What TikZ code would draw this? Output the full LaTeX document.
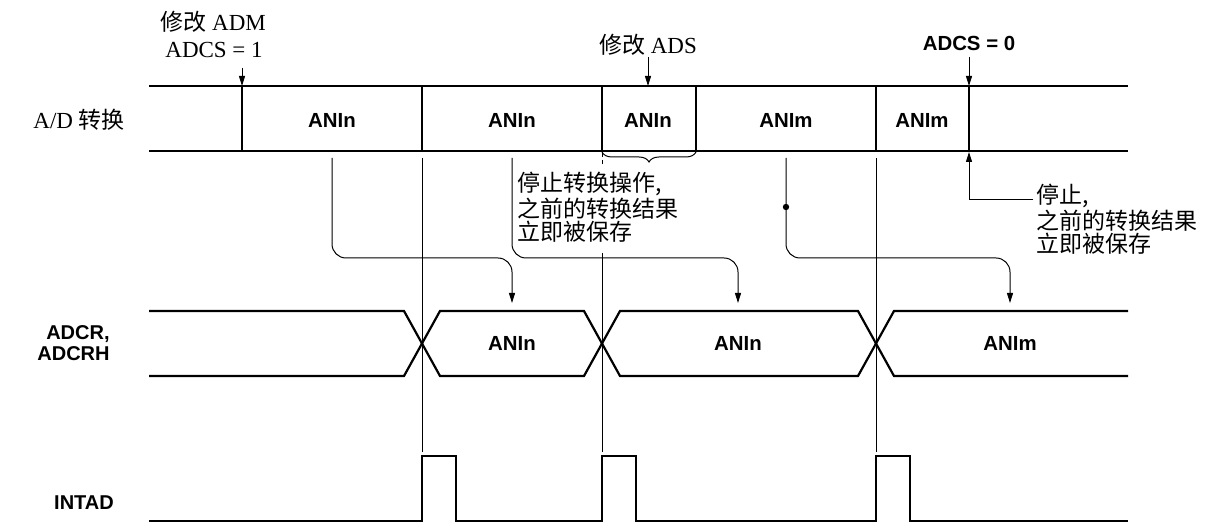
\documentclass[tikz,border=0pt]{standalone}
\usepackage{fontspec}
\setmainfont{Liberation Serif}
\setsansfont{Liberation Sans}
\newfontfamily\cjk{Noto Sans CJK SC}
\usetikzlibrary{arrows.meta, positioning, calc, decorations.pathreplacing}
\definecolor{sigblack}{RGB}{0,0,0}
\tikzset{
  sigline/.style={line width=1.1pt, draw=sigblack, line join=miter},
  guide/.style={line width=0.5pt, draw=sigblack},
  flowarrow/.style={line width=0.5pt, rounded corners=7pt,
    -{Triangle[length=5pt,width=3pt]}},
  markarrow/.style={line width=0.5pt, -{Triangle[length=5pt,width=3pt]}},
  siglabel/.style={font=\sffamily\bfseries\fontsize{10.2}{12}\selectfont, inner sep=0pt},
  rowlabel/.style={font=\sffamily\bfseries\fontsize{10}{10.5}\selectfont, inner sep=0pt},
  note/.style={font=\cjk\fontsize{11.5}{11.5}\selectfont, align=left, inner sep=1pt},
  serifnote/.style={font=\fontsize{11.5}{13}\selectfont, inner sep=0pt}
}
\begin{document}
\begin{tikzpicture}[x=0.5pt, y=-0.5pt]
  \useasboundingbox (0,0) rectangle (1217,523);

  % row names
  \node[serifnote, anchor=west] (adrow) at (33,120) {A/D {\cjk 转换}};
  \node[rowlabel, anchor=east, align=right] (adcrrow) at (110,343) {ADCR,\\ADCRH};
  \node[rowlabel] (intadrow) at (84,503) {INTAD};

  % A/D conversion row
  \draw[sigline] (149,86) -- (1128,86) (149,151) -- (1128,151);
  \foreach \x in {242,422,602,696,876,969}
    \draw[sigline] (\x,86) -- (\x,151);
  \node[siglabel] (conv1) at (332,120) {ANIn};
  \node[siglabel] (conv2) at (512,120) {ANIn};
  \node[siglabel] (conv3) at (648,120) {ANIn};
  \node[siglabel] (conv4) at (786,120) {ANIm};
  \node[siglabel] (conv5) at (922,120) {ANIm};
  \draw[guide, decorate, decoration={brace, amplitude=5pt, mirror}]
    (602,152) -- (696,152);

  % notes above
  \node[serifnote, anchor=west] (admnote) at (160,22) {{\cjk 修改} ADM};
  \node[serifnote, anchor=west] (adcson) at (165,50) {ADCS = 1};
  \node[serifnote] (adsnote) at (648,45) {{\cjk 修改} ADS};
  \node[siglabel] (adcsoff) at (969,43) {ADCS = 0};
  \coordinate (admtop) at (242,68);
  \coordinate (adstop) at (648,57);
  \coordinate (offtop) at (969,57);
  \draw[markarrow] (admtop) -- (242,86);
  \draw[markarrow] (adstop) -- (648,86);
  \draw[markarrow] (offtop) -- (969,86);

  % ADCR, ADCRH row
  \draw[sigline] (149,311) -- (404,311) -- (440,376) -- (584,376) -- (620,311)
    -- (858,311) -- (894,376) -- (1128,376);
  \draw[sigline] (149,376) -- (404,376) -- (440,311) -- (584,311) -- (620,376)
    -- (858,376) -- (894,311) -- (1128,311);
  \node[siglabel] (res1) at (512,343) {ANIn};
  \node[siglabel] (res2) at (738,343) {ANIn};
  \node[siglabel] (res3) at (1010,343) {ANIm};

  % INTAD row
  \draw[sigline] (149,521) -- (422,521) -- (422,456) -- (456,456) -- (456,521)
    -- (602,521) -- (602,456) -- (636,456) -- (636,521)
    -- (876,521) -- (876,456) -- (910,456) -- (910,521) -- (1128,521);

  % timing guides
  \draw[guide] (422,158) -- (422,452);
  \draw[guide, dash pattern=on 2pt off 1.5pt] (602,153) -- (602,166);
  \draw[guide] (602,253) -- (602,452);
  \draw[guide] (876,158) -- (876,452);

  % result transfer
  \draw[flowarrow] (332,158) |- (512,258) -- (512,303);
  \draw[flowarrow] (512,158) |- (738,258) -- (738,303);
  \draw[flowarrow] (786,158) |- (1010,258) -- (1010,303);
  \fill (786,207) circle (1.6pt);

  % stop notes
  \node[note, anchor=north west] (abortnote) at (515,170)
    {停止转换操作,\\之前的转换结果\\立即被保存};
  \node[note, anchor=north west] (stopnote) at (1034,182)
    {停止,\\之前的转换结果\\立即被保存};
  \coordinate (stopk) at (1033,200);
  \draw[markarrow] (stopk) -| (969,152);
\end{tikzpicture}
\end{document}
